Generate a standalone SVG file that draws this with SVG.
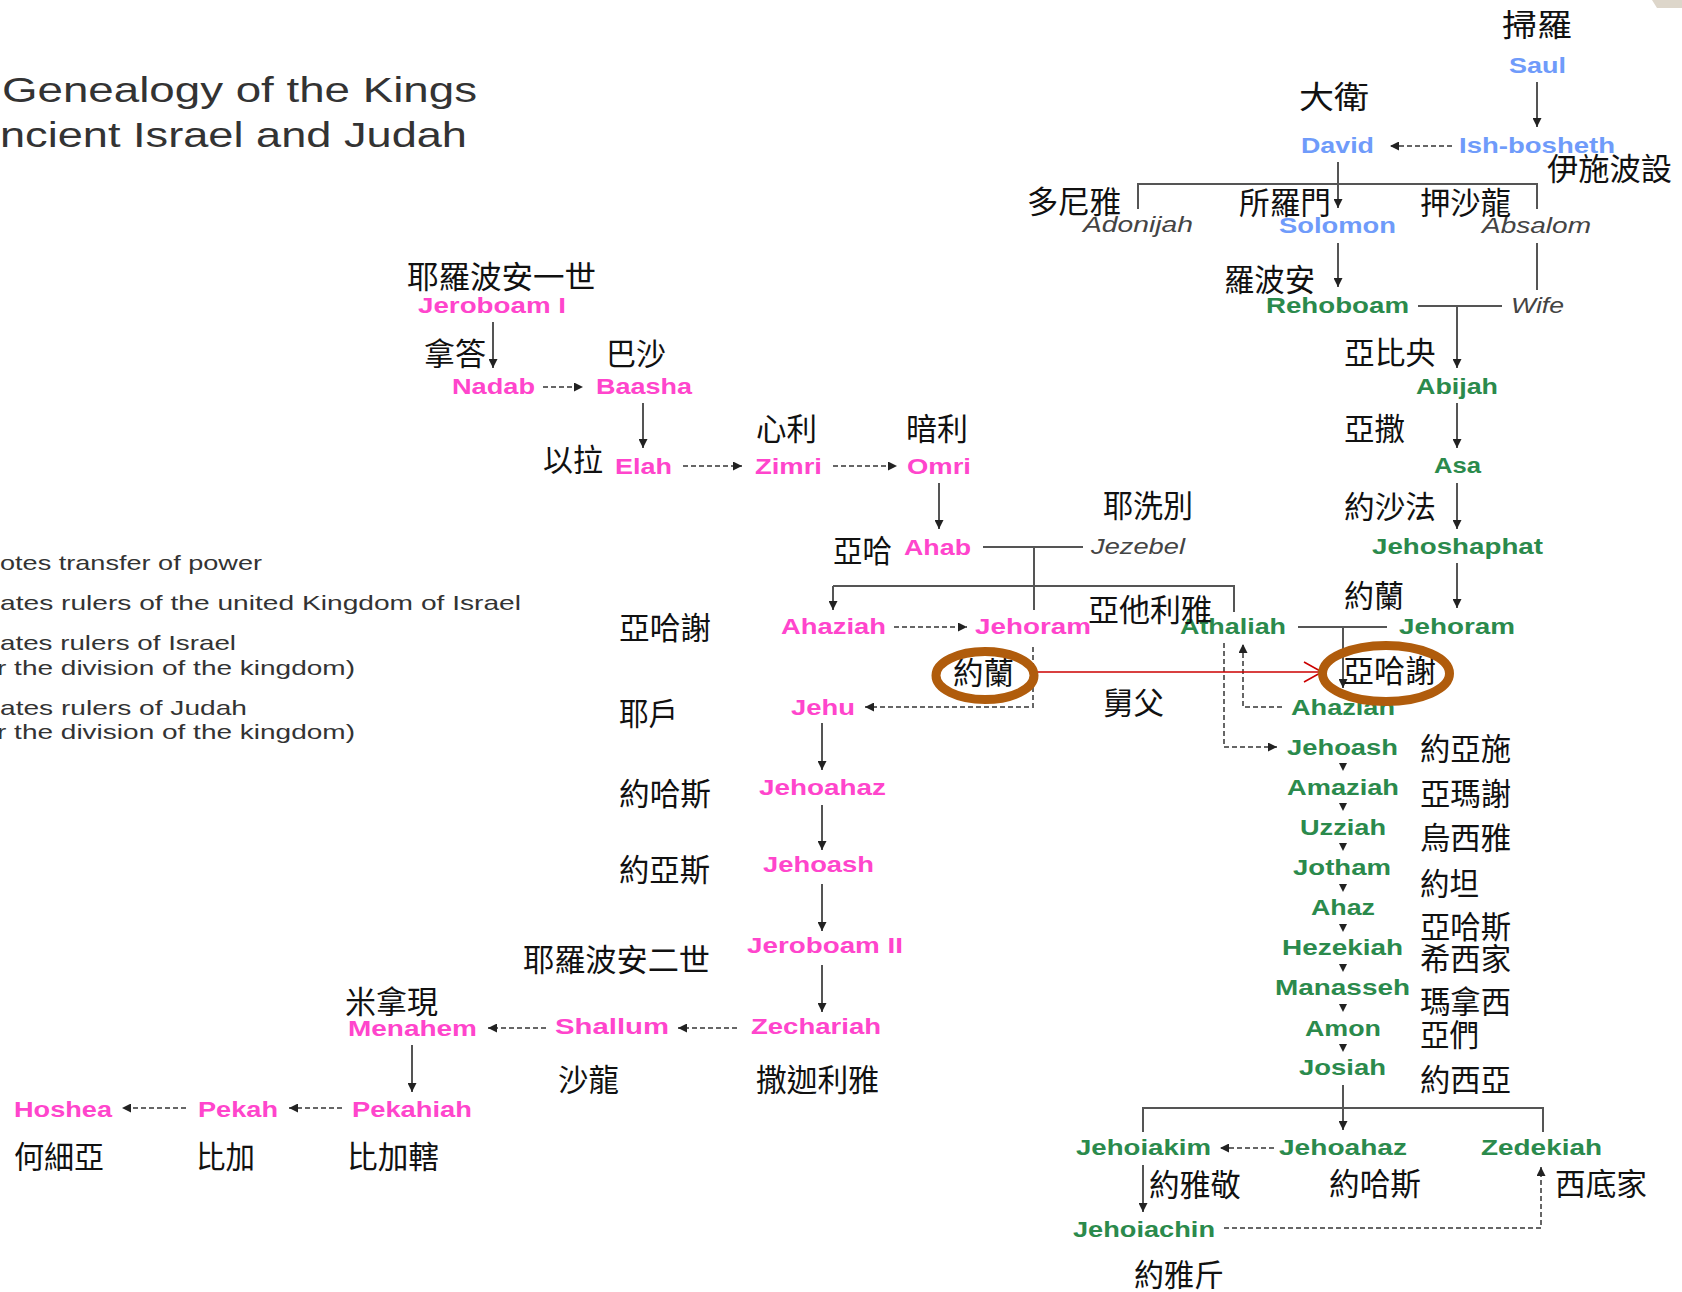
<svg xmlns="http://www.w3.org/2000/svg" width="1682" height="1292" viewBox="0 0 1682 1292">
<defs>
<style>
.e{font-family:"Liberation Sans",Arial,sans-serif;font-weight:bold;font-size:22px}
.p{fill:#ff45cc}
.b{fill:#6f9bfa}
.g{fill:#2b8a4c}
.i{font-family:"Liberation Sans",Arial,sans-serif;font-style:italic;font-size:22px;fill:#444}
.c{font-family:"Noto Sans CJK TC","Noto Sans CJK SC",sans-serif;font-size:31px;fill:#111}
.lg{font-family:"Liberation Sans",Arial,sans-serif;font-size:21px;fill:#333}
.t{font-family:"Liberation Sans",Arial,sans-serif;font-size:35px;fill:#333}
.s{fill:none;stroke:#555;stroke-width:2}
.d{fill:none;stroke:#666;stroke-width:2;stroke-dasharray:5 3}
.ring{fill:none;stroke:#b05c0c;stroke-width:9}
.tri{fill:#222}
</style>
<marker id="ah" viewBox="0 0 10 10" refX="10" refY="5" markerWidth="9" markerHeight="9" markerUnits="userSpaceOnUse" orient="auto"><path d="M0,0 L10,5 L0,10 z" fill="#222"/></marker>
</defs>
<rect width="1682" height="1292" fill="#fff"/>
<polygon points="1652,0 1682,0 1682,8 1657,8" fill="#ddd6ca"/>

<g id="title">
<text class="t" x="2" y="102" textLength="475" lengthAdjust="spacingAndGlyphs">Genealogy of the Kings</text>
<text class="t" x="0" y="147" textLength="467" lengthAdjust="spacingAndGlyphs">ncient Israel and Judah</text>
</g>

<g id="legend">
<text class="lg" x="0" y="570" textLength="262" lengthAdjust="spacingAndGlyphs">otes transfer of power</text>
<text class="lg" x="0" y="610" textLength="521" lengthAdjust="spacingAndGlyphs">ates rulers of the united Kingdom of Israel</text>
<text class="lg" x="0" y="650" textLength="236" lengthAdjust="spacingAndGlyphs">ates rulers of Israel</text>
<text class="lg" x="-3" y="675" textLength="358" lengthAdjust="spacingAndGlyphs">r the division of the kingdom)</text>
<text class="lg" x="0" y="715" textLength="247" lengthAdjust="spacingAndGlyphs">ates rulers of Judah</text>
<text class="lg" x="-3" y="739" textLength="358" lengthAdjust="spacingAndGlyphs">r the division of the kingdom)</text>
</g>

<g id="connectors">
<!-- solid arrows -->
<path class="s" d="M1537,82 V127" marker-end="url(#ah)"/>
<path class="s" d="M1338,162 V208" marker-end="url(#ah)"/>
<path class="s" d="M1338,243 V287" marker-end="url(#ah)"/>
<path class="s" d="M1457,306 V368" marker-end="url(#ah)"/>
<path class="s" d="M1457,403 V448" marker-end="url(#ah)"/>
<path class="s" d="M1457,483 V529" marker-end="url(#ah)"/>
<path class="s" d="M1457,563 V608" marker-end="url(#ah)"/>
<path class="s" d="M1343,627 V688" marker-end="url(#ah)"/>
<path class="s" d="M493,322 V368" marker-end="url(#ah)"/>
<path class="s" d="M643,403 V448" marker-end="url(#ah)"/>
<path class="s" d="M939,483 V529" marker-end="url(#ah)"/>
<path class="s" d="M833,586 V610" marker-end="url(#ah)"/>
<path class="s" d="M822,723 V770" marker-end="url(#ah)"/>
<path class="s" d="M822,805 V850" marker-end="url(#ah)"/>
<path class="s" d="M822,884 V931" marker-end="url(#ah)"/>
<path class="s" d="M822,965 V1012" marker-end="url(#ah)"/>
<path class="s" d="M412,1045 V1092" marker-end="url(#ah)"/>
<path class="s" d="M1343,1085 V1130" marker-end="url(#ah)"/>
<path class="s" d="M1143,1165 V1212" marker-end="url(#ah)"/>
<!-- plain lines -->
<path class="s" d="M1138,209 V184 H1537 V209" stroke="#777" stroke-width="3"/>
<path class="s" d="M1537,243 V290"/>
<path class="s" d="M1418,306 H1502"/>
<path class="s" d="M983,547 H1083"/>
<path class="s" d="M1034,547 V610" stroke="#222"/>
<path class="s" d="M833,586 H1234 V612"/>
<path class="s" d="M1298,627 H1387"/>
<path class="s" d="M1143,1132 V1108 H1543 V1132"/>
<!-- dashed arrows -->
<path class="d" d="M1452,146 H1390" marker-end="url(#ah)"/>
<path class="d" d="M543,387 H583" marker-end="url(#ah)"/>
<path class="d" d="M683,466 H742" marker-end="url(#ah)"/>
<path class="d" d="M833,466 H897" marker-end="url(#ah)"/>
<path class="d" d="M894,627 H967" marker-end="url(#ah)"/>
<path class="d" d="M1033,647 V707 H865" marker-end="url(#ah)"/>
<path class="d" d="M1282,707 H1243 V644" marker-end="url(#ah)"/>
<path class="d" d="M1224,643 V747 H1277" marker-end="url(#ah)"/>
<path class="d" d="M737,1028 H678" marker-end="url(#ah)"/>
<path class="d" d="M546,1028 H488" marker-end="url(#ah)"/>
<path class="d" d="M342,1108 H289" marker-end="url(#ah)"/>
<path class="d" d="M186,1108 H122" marker-end="url(#ah)"/>
<path class="d" d="M1274,1148 H1220" marker-end="url(#ah)"/>
<path class="d" d="M1224,1228 H1541 V1167" marker-end="url(#ah)"/>
<!-- small succession arrowheads -->
<path class="tri" d="M1339,763 H1347 L1343,771 z"/>
<path class="tri" d="M1339,803 H1347 L1343,811 z"/>
<path class="tri" d="M1339,843 H1347 L1343,851 z"/>
<path class="tri" d="M1339,884 H1347 L1343,892 z"/>
<path class="tri" d="M1339,924 H1347 L1343,932 z"/>
<path class="tri" d="M1339,964 H1347 L1343,972 z"/>
<path class="tri" d="M1339,1004 H1347 L1343,1012 z"/>
<path class="tri" d="M1339,1044 H1347 L1343,1052 z"/>
<!-- red annotation arrow -->
<path d="M1037,672 H1322" fill="none" stroke="#cc0000" stroke-width="1.6"/>
<path d="M1304,662 L1322,672 L1304,682" fill="none" stroke="#cc0000" stroke-width="1.6"/>
<text class="c" x="1103" y="714" textLength="61" lengthAdjust="spacingAndGlyphs">舅父</text>
</g>

<!-- United kingdom -->
<g id="n-saul"><text class="c" x="1502" y="36" font-size="35" textLength="70" lengthAdjust="spacingAndGlyphs">掃羅</text><text class="e b" x="1509" y="73" textLength="57" lengthAdjust="spacingAndGlyphs">Saul</text></g>
<g id="n-david"><text class="c" x="1299" y="108" font-size="35" textLength="70" lengthAdjust="spacingAndGlyphs">大衛</text><text class="e b" x="1301" y="153" textLength="73" lengthAdjust="spacingAndGlyphs">David</text></g>
<g id="n-ishbosheth"><text class="e b" x="1459" y="153" textLength="156" lengthAdjust="spacingAndGlyphs">Ish-bosheth</text><text class="c" x="1547" y="180" textLength="125" lengthAdjust="spacingAndGlyphs">伊施波設</text></g>
<g id="n-adonijah"><text class="c" x="1027" y="213" textLength="94" lengthAdjust="spacingAndGlyphs">多尼雅</text><text class="i" x="1083" y="232" textLength="110" lengthAdjust="spacingAndGlyphs">Adonijah</text></g>
<g id="n-solomon"><text class="c" x="1239" y="214" textLength="92" lengthAdjust="spacingAndGlyphs">所羅門</text><text class="e b" x="1279" y="233" textLength="117" lengthAdjust="spacingAndGlyphs">Solomon</text></g>
<g id="n-absalom"><text class="c" x="1420" y="214" textLength="91" lengthAdjust="spacingAndGlyphs">押沙龍</text><text class="i" x="1482" y="233" textLength="109" lengthAdjust="spacingAndGlyphs">Absalom</text></g>

<!-- Judah -->
<g id="n-rehoboam"><text class="c" x="1224" y="291" textLength="91" lengthAdjust="spacingAndGlyphs">羅波安</text><text class="e g" x="1266" y="313" textLength="143" lengthAdjust="spacingAndGlyphs">Rehoboam</text></g>
<g id="n-wife"><text class="i" x="1511" y="313" textLength="53" lengthAdjust="spacingAndGlyphs">Wife</text></g>
<g id="n-abijah"><text class="c" x="1344" y="364" textLength="92" lengthAdjust="spacingAndGlyphs">亞比央</text><text class="e g" x="1416" y="394" textLength="82" lengthAdjust="spacingAndGlyphs">Abijah</text></g>
<g id="n-asa"><text class="c" x="1344" y="440" textLength="61" lengthAdjust="spacingAndGlyphs">亞撒</text><text class="e g" x="1434" y="473" textLength="47" lengthAdjust="spacingAndGlyphs">Asa</text></g>
<g id="n-jehoshaphat"><text class="c" x="1344" y="518" textLength="92" lengthAdjust="spacingAndGlyphs">約沙法</text><text class="e g" x="1372" y="554" textLength="171" lengthAdjust="spacingAndGlyphs">Jehoshaphat</text></g>
<g id="n-jehoram-judah"><text class="c" x="1344" y="607" textLength="60" lengthAdjust="spacingAndGlyphs">約蘭</text><text class="e g" x="1399" y="634" textLength="116" lengthAdjust="spacingAndGlyphs">Jehoram</text></g>
<g id="n-athaliah"><text class="e g" x="1180" y="634" textLength="106" lengthAdjust="spacingAndGlyphs">Athaliah</text><text class="c" x="1088" y="621" textLength="124" lengthAdjust="spacingAndGlyphs">亞他利雅</text></g>
<g id="n-ahaziah-judah"><text class="e g" x="1291" y="715" textLength="104" lengthAdjust="spacingAndGlyphs">Ahaziah</text><text class="c" x="1343" y="682" textLength="93" lengthAdjust="spacingAndGlyphs">亞哈謝</text><ellipse class="ring" cx="1386" cy="673.5" rx="63.5" ry="28"/></g>
<g id="n-jehoash-judah"><text class="e g" x="1287" y="755" textLength="111" lengthAdjust="spacingAndGlyphs">Jehoash</text><text class="c" x="1420" y="760" textLength="91" lengthAdjust="spacingAndGlyphs">約亞施</text></g>
<g id="n-amaziah"><text class="e g" x="1287" y="795" textLength="112" lengthAdjust="spacingAndGlyphs">Amaziah</text><text class="c" x="1420" y="805" textLength="91" lengthAdjust="spacingAndGlyphs">亞瑪謝</text></g>
<g id="n-uzziah"><text class="e g" x="1300" y="835" textLength="86" lengthAdjust="spacingAndGlyphs">Uzziah</text><text class="c" x="1420" y="849" textLength="91" lengthAdjust="spacingAndGlyphs">烏西雅</text></g>
<g id="n-jotham"><text class="e g" x="1293" y="875" textLength="98" lengthAdjust="spacingAndGlyphs">Jotham</text><text class="c" x="1420" y="895" textLength="59" lengthAdjust="spacingAndGlyphs">約坦</text></g>
<g id="n-ahaz"><text class="e g" x="1311" y="915" textLength="64" lengthAdjust="spacingAndGlyphs">Ahaz</text><text class="c" x="1420" y="938" textLength="91" lengthAdjust="spacingAndGlyphs">亞哈斯</text></g>
<g id="n-hezekiah"><text class="e g" x="1282" y="955" textLength="121" lengthAdjust="spacingAndGlyphs">Hezekiah</text><text class="c" x="1420" y="970" textLength="91" lengthAdjust="spacingAndGlyphs">希西家</text></g>
<g id="n-manasseh"><text class="e g" x="1275" y="995" textLength="135" lengthAdjust="spacingAndGlyphs">Manasseh</text><text class="c" x="1420" y="1013" textLength="91" lengthAdjust="spacingAndGlyphs">瑪拿西</text></g>
<g id="n-amon"><text class="e g" x="1305" y="1036" textLength="76" lengthAdjust="spacingAndGlyphs">Amon</text><text class="c" x="1420" y="1046" textLength="59" lengthAdjust="spacingAndGlyphs">亞們</text></g>
<g id="n-josiah"><text class="e g" x="1299" y="1075" textLength="87" lengthAdjust="spacingAndGlyphs">Josiah</text><text class="c" x="1420" y="1091" textLength="91" lengthAdjust="spacingAndGlyphs">約西亞</text></g>
<g id="n-jehoiakim"><text class="e g" x="1076" y="1155" textLength="135" lengthAdjust="spacingAndGlyphs">Jehoiakim</text><text class="c" x="1149" y="1196" textLength="92" lengthAdjust="spacingAndGlyphs">約雅敬</text></g>
<g id="n-jehoahaz-judah"><text class="e g" x="1279" y="1155" textLength="128" lengthAdjust="spacingAndGlyphs">Jehoahaz</text><text class="c" x="1329" y="1195" textLength="92" lengthAdjust="spacingAndGlyphs">約哈斯</text></g>
<g id="n-zedekiah"><text class="e g" x="1481" y="1155" textLength="121" lengthAdjust="spacingAndGlyphs">Zedekiah</text><text class="c" x="1555" y="1195" textLength="92" lengthAdjust="spacingAndGlyphs">西底家</text></g>
<g id="n-jehoiachin"><text class="e g" x="1073" y="1237" textLength="142" lengthAdjust="spacingAndGlyphs">Jehoiachin</text><text class="c" x="1134" y="1286" textLength="90" lengthAdjust="spacingAndGlyphs">約雅斤</text></g>

<!-- Israel -->
<g id="n-jeroboam1"><text class="c" x="407" y="288" textLength="189" lengthAdjust="spacingAndGlyphs">耶羅波安一世</text><text class="e p" x="418" y="313" textLength="148" lengthAdjust="spacingAndGlyphs">Jeroboam I</text></g>
<g id="n-nadab"><text class="c" x="424" y="365" textLength="62" lengthAdjust="spacingAndGlyphs">拿答</text><text class="e p" x="452" y="394" textLength="83" lengthAdjust="spacingAndGlyphs">Nadab</text></g>
<g id="n-baasha"><text class="c" x="606" y="365" textLength="60" lengthAdjust="spacingAndGlyphs">巴沙</text><text class="e p" x="596" y="394" textLength="96" lengthAdjust="spacingAndGlyphs">Baasha</text></g>
<g id="n-elah"><text class="c" x="543" y="471" textLength="60" lengthAdjust="spacingAndGlyphs">以拉</text><text class="e p" x="615" y="474" textLength="57" lengthAdjust="spacingAndGlyphs">Elah</text></g>
<g id="n-zimri"><text class="c" x="756" y="440" textLength="61" lengthAdjust="spacingAndGlyphs">心利</text><text class="e p" x="755" y="474" textLength="67" lengthAdjust="spacingAndGlyphs">Zimri</text></g>
<g id="n-omri"><text class="c" x="906" y="440" textLength="62" lengthAdjust="spacingAndGlyphs">暗利</text><text class="e p" x="907" y="474" textLength="64" lengthAdjust="spacingAndGlyphs">Omri</text></g>
<g id="n-ahab"><text class="c" x="833" y="562" textLength="59" lengthAdjust="spacingAndGlyphs">亞哈</text><text class="e p" x="904" y="555" textLength="67" lengthAdjust="spacingAndGlyphs">Ahab</text></g>
<g id="n-jezebel"><text class="c" x="1103" y="517" textLength="90" lengthAdjust="spacingAndGlyphs">耶洗別</text><text class="i" x="1091" y="554" textLength="94" lengthAdjust="spacingAndGlyphs">Jezebel</text></g>
<g id="n-ahaziah-israel"><text class="c" x="619" y="639" textLength="92" lengthAdjust="spacingAndGlyphs">亞哈謝</text><text class="e p" x="781" y="634" textLength="105" lengthAdjust="spacingAndGlyphs">Ahaziah</text></g>
<g id="n-jehoram-israel"><text class="e p" x="975" y="634" textLength="116" lengthAdjust="spacingAndGlyphs">Jehoram</text><text class="c" x="953" y="684" textLength="61" lengthAdjust="spacingAndGlyphs">約蘭</text><ellipse class="ring" cx="985" cy="675.5" rx="49" ry="24"/></g>
<g id="n-jehu"><text class="c" x="619" y="725" textLength="59" lengthAdjust="spacingAndGlyphs">耶戶</text><text class="e p" x="791" y="715" textLength="64" lengthAdjust="spacingAndGlyphs">Jehu</text></g>
<g id="n-jehoahaz-israel"><text class="c" x="619" y="805" textLength="92" lengthAdjust="spacingAndGlyphs">約哈斯</text><text class="e p" x="759" y="795" textLength="127" lengthAdjust="spacingAndGlyphs">Jehoahaz</text></g>
<g id="n-jehoash-israel"><text class="c" x="619" y="881" textLength="91" lengthAdjust="spacingAndGlyphs">約亞斯</text><text class="e p" x="763" y="872" textLength="111" lengthAdjust="spacingAndGlyphs">Jehoash</text></g>
<g id="n-jeroboam2"><text class="c" x="523" y="971" textLength="187" lengthAdjust="spacingAndGlyphs">耶羅波安二世</text><text class="e p" x="747" y="953" textLength="156" lengthAdjust="spacingAndGlyphs">Jeroboam II</text></g>
<g id="n-zechariah"><text class="e p" x="751" y="1034" textLength="130" lengthAdjust="spacingAndGlyphs">Zechariah</text><text class="c" x="756" y="1091" textLength="123" lengthAdjust="spacingAndGlyphs">撒迦利雅</text></g>
<g id="n-shallum"><text class="e p" x="555" y="1034" textLength="114" lengthAdjust="spacingAndGlyphs">Shallum</text><text class="c" x="558" y="1091" textLength="61" lengthAdjust="spacingAndGlyphs">沙龍</text></g>
<g id="n-menahem"><text class="c" x="345" y="1013" textLength="93" lengthAdjust="spacingAndGlyphs">米拿現</text><text class="e p" x="348" y="1036" textLength="129" lengthAdjust="spacingAndGlyphs">Menahem</text></g>
<g id="n-pekahiah"><text class="e p" x="352" y="1117" textLength="120" lengthAdjust="spacingAndGlyphs">Pekahiah</text><text class="c" x="347" y="1168" textLength="92" lengthAdjust="spacingAndGlyphs">比加轄</text></g>
<g id="n-pekah"><text class="e p" x="198" y="1117" textLength="80" lengthAdjust="spacingAndGlyphs">Pekah</text><text class="c" x="196" y="1168" textLength="59" lengthAdjust="spacingAndGlyphs">比加</text></g>
<g id="n-hoshea"><text class="e p" x="14" y="1117" textLength="98" lengthAdjust="spacingAndGlyphs">Hoshea</text><text class="c" x="14" y="1168" textLength="90" lengthAdjust="spacingAndGlyphs">何細亞</text></g>
</svg>
